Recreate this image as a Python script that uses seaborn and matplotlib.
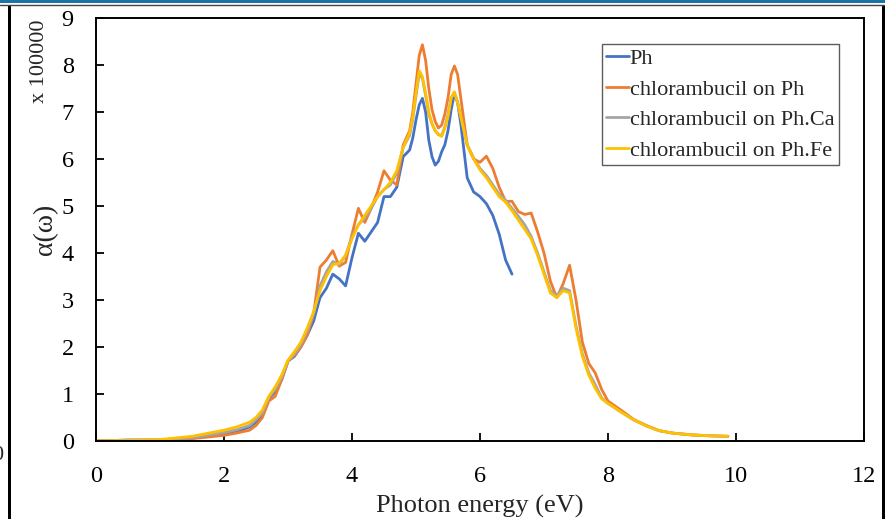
import matplotlib
matplotlib.use("Agg")
import matplotlib.pyplot as plt
from matplotlib.patches import Rectangle
from matplotlib.lines import Line2D
import seaborn as sns
import pandas as pd

# Photon energy grid (eV)
energy = [0, 0.5, 1.0, 1.5, 2.0, 2.2, 2.4,
          2.5, 2.6, 2.7, 2.8, 2.9,
          3.0, 3.1, 3.2, 3.3, 3.4, 3.5, 3.6, 3.7, 3.8, 3.9,
          4.0, 4.1, 4.2, 4.3, 4.4, 4.5, 4.6, 4.7, 4.8, 4.9, 4.95,
          5.0, 5.05, 5.1, 5.15, 5.2, 5.25, 5.3, 5.35, 5.4, 5.45,
          5.5, 5.55, 5.6, 5.65, 5.7, 5.8, 5.9,
          6.0, 6.1, 6.2, 6.3, 6.4, 6.5, 6.6, 6.7, 6.8, 6.9,
          7.0, 7.1, 7.2, 7.3, 7.4, 7.5, 7.6, 7.7, 7.8, 7.9,
          8.0, 8.2, 8.4, 8.6, 8.8, 9.0, 9.3, 9.6, 9.875]

# Absorption coefficient, in units of 1e5
alpha_ph = [0, 0.02, 0.02, 0.06, 0.15, 0.2, 0.3,
            0.4, 0.55, 0.9, 1.05, 1.3,
            1.7, 1.8, 2.0, 2.25, 2.55, 3.05, 3.25, 3.55, 3.45, 3.3,
            3.9, 4.42, 4.25, 4.45, 4.65, 5.2, 5.2, 5.4, 6.05, 6.19, 6.45,
            6.83, 7.15, 7.29, 7.0, 6.4, 6.05, 5.87, 5.95, 6.15, 6.3,
            6.6, 7.05, 7.4, 7.2, 6.75, 5.6, 5.3,
            5.2, 5.05, 4.8, 4.4, 3.85, 3.55]

alpha_chl_ph = [0, 0.01, 0.02, 0.05, 0.12, 0.17, 0.23,
                0.33, 0.5, 0.85, 0.95, 1.3,
                1.7, 1.82, 2.0, 2.25, 2.7, 3.7, 3.85, 4.05, 3.72, 3.8,
                4.4, 4.95, 4.65, 4.95, 5.3, 5.75, 5.55, 5.45, 6.3, 6.6, 7.0,
                7.6, 8.2, 8.43, 8.1, 7.5, 7.05, 6.8, 6.66, 6.72, 6.95,
                7.3, 7.8, 7.98, 7.8, 7.3, 6.3, 6.0,
                5.93, 6.06, 5.8, 5.4, 5.1, 5.1, 4.88, 4.82, 4.85, 4.45,
                4.0, 3.4, 3.05, 3.35, 3.74, 3.0, 2.1, 1.65, 1.45, 1.1,
                0.85, 0.66, 0.46, 0.33, 0.22, 0.17, 0.13, 0.11, 0.1]

alpha_chl_ca = [0, 0.02, 0.02, 0.07, 0.18, 0.24, 0.33,
                0.45, 0.6, 0.92, 1.1, 1.35,
                1.7, 1.85, 2.05, 2.35, 2.7, 3.3, 3.6, 3.82, 3.75, 3.95,
                4.35, 4.6, 4.75, 4.95, 5.2, 5.35, 5.45, 5.7, 6.25, 6.5, 6.85,
                7.35, 7.8, 7.72, 7.35, 6.95, 6.75, 6.6, 6.52, 6.5, 6.68,
                6.95, 7.3, 7.4, 7.2, 6.9, 6.3, 6.02,
                5.8, 5.65, 5.45, 5.25, 5.12, 4.95, 4.78, 4.6, 4.35, 4.0,
                3.6, 3.2, 3.1, 3.25, 3.2, 2.45, 1.85, 1.45, 1.2, 0.92,
                0.8, 0.62, 0.45, 0.32, 0.22, 0.17, 0.13, 0.11, 0.1]

alpha_chl_fe = [0, 0.01, 0.03, 0.1, 0.23, 0.3, 0.4,
                0.5, 0.66, 0.95, 1.15, 1.4,
                1.72, 1.9, 2.1, 2.4, 2.75, 3.2, 3.5, 3.75, 3.78, 3.95,
                4.3, 4.6, 4.8, 5.0, 5.2, 5.35, 5.5, 5.75, 6.25, 6.55, 6.9,
                7.4, 7.88, 7.75, 7.4, 7.0, 6.75, 6.6, 6.52, 6.48, 6.65,
                6.9, 7.3, 7.43, 7.2, 6.9, 6.3, 6.0,
                5.77, 5.6, 5.4, 5.2, 5.08, 4.9, 4.7, 4.5, 4.3, 3.95,
                3.55, 3.15, 3.05, 3.2, 3.15, 2.4, 1.8, 1.4, 1.12, 0.9,
                0.8, 0.62, 0.45, 0.32, 0.22, 0.17, 0.13, 0.11, 0.1]

labels = ["Ph", "chlorambucil on Ph", "chlorambucil on Ph.Ca", "chlorambucil on Ph.Fe"]
colors = ["#4472C4", "#ED7D31", "#A5A5A5", "#FFC000"]
x_ticks = [0, 2, 4, 6, 8, 10, 12]
y_ticks = [0, 1, 2, 3, 4, 5, 6, 7, 8, 9]

series = [alpha_ph, alpha_chl_ph, alpha_chl_ca, alpha_chl_fe]
frames = []
for name, vals in zip(labels, series):
    frames.append(pd.DataFrame({"energy": energy[:len(vals)], "alpha": vals, "sample": name}))
df = pd.concat(frames, ignore_index=True)

sns.set_style("white")
plt.rcParams["font.family"] = ["Liberation Serif", "DejaVu Serif"]

W, H = 885, 519
fig = plt.figure(figsize=(W / 100, H / 100), dpi=100)
ax = fig.add_axes([96 / W, 1 - 441 / H, (864 - 96) / W, (441 - 18) / H])

sns.lineplot(data=df, x="energy", y="alpha", hue="sample", hue_order=labels,
             palette=colors, linewidth=2.0, sort=False, estimator=None,
             ax=ax, legend=False)
for ln in ax.get_lines():
    ln.set_solid_joinstyle("round")
    ln.set_solid_capstyle("round")

ax.set_xlim(0, 12)
ax.set_ylim(0, 9)
ax.set_xticks(x_ticks)
ax.set_yticks(y_ticks)
ax.tick_params(axis="both", direction="in", length=6, width=1.3, labelsize=17.5,
               colors="black", top=False, right=False, bottom=True, left=True)
ax.tick_params(axis="y", pad=16)
ax.tick_params(axis="x", pad=18)
for s in ax.spines.values():
    s.set_color("black")
    s.set_linewidth(1.4)

ax.set_xlabel("Photon energy (eV)", fontsize=19)
ax.xaxis.set_label_coords(0.5, -0.127)
ax.set_ylabel("α(ω)", fontsize=20)
ax.yaxis.set_label_coords(-0.049, 0.5)
fig.text(40 / W, 1 - 61 / H, "x 100000", rotation=90, fontsize=16,
         ha="center", va="center")

handles = [Line2D([0], [0], color=c, linewidth=2.0) for c in colors]
leg = ax.legend(handles, labels, loc="upper left",
                bbox_to_anchor=((602 - 96) / 768, (441 - 44) / 423),
                fontsize=16, frameon=True, fancybox=False, handlelength=1.0,
                handletextpad=0.05, labelspacing=0.45, borderpad=0.2, borderaxespad=0)
leg.get_frame().set_edgecolor("#333333")
leg.get_frame().set_linewidth(1.0)

# Surrounding frame decorations
fig.add_artist(Rectangle((0, 1 - 3 / H), 1, 3 / H, transform=fig.transFigure,
                         facecolor="#1b74a4", edgecolor="none"))
fig.add_artist(Line2D([0, 1], [1 - 4.5 / H, 1 - 4.5 / H], transform=fig.transFigure,
                      color="#444444", linewidth=1.0))
fig.add_artist(Rectangle((8 / W, 0), 3 / W, 1 - 5 / H, transform=fig.transFigure,
                         facecolor="black", edgecolor="none"))
fig.add_artist(Rectangle((882 / W, 0), 3 / W, 1 - 5 / H, transform=fig.transFigure,
                         facecolor="black", edgecolor="none"))
fig.text(3 / W, 1 - 456 / H, "0", fontsize=16, ha="right", va="center")

fig.savefig("out.png", dpi=100)
